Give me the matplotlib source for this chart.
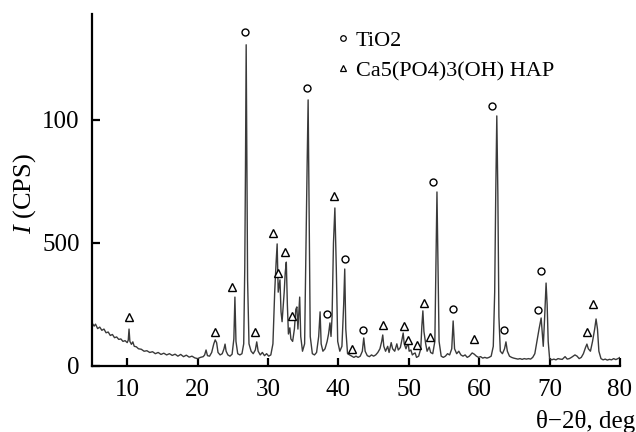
import matplotlib
matplotlib.use("Agg")
import matplotlib.pyplot as plt
from matplotlib.lines import Line2D

plt.rcParams['font.family'] = ['Liberation Serif', 'DejaVu Serif']
plt.rcParams['mathtext.fontset'] = 'custom'
plt.rcParams['mathtext.it'] = 'Liberation Serif:italic'
plt.rcParams['mathtext.rm'] = 'Liberation Serif'

# XRD trace (2theta in deg, intensity in CPS)
two_theta = [
    5.0, 5.3, 5.5, 5.8, 6.1, 6.4, 6.7, 7.0, 7.3, 7.6, 7.9, 8.2, 8.5, 8.8, 9.1, 9.4, 9.7,
    10.0, 10.15, 10.26, 10.38, 10.6, 10.8, 11.0, 11.3, 11.6, 12.0, 12.4, 12.8, 13.2, 13.6,
    14.0, 14.4, 14.8, 15.2, 15.6, 16.0, 16.4, 16.8, 17.2, 17.6, 18.0, 18.4, 18.8, 19.2, 19.6,
    20.0, 20.4, 20.8, 21.0, 21.2, 21.4, 21.7, 22.0, 22.3, 22.5, 22.7, 22.9, 23.2, 23.5, 23.75,
    23.9, 24.05, 24.3, 24.6, 24.9, 25.15, 25.3, 25.45, 25.7, 26.0, 26.3, 26.55, 26.7, 26.8,
    26.9, 27.0, 27.1, 27.3, 27.6, 27.9, 28.2, 28.4, 28.6, 28.9, 29.2, 29.5, 29.8, 30.1, 30.4,
    30.7, 30.95, 31.15, 31.3, 31.45, 31.6, 31.7, 31.85, 32.0, 32.3, 32.45, 32.6, 32.75, 32.9,
    33.1, 33.25, 33.5, 33.75, 33.95, 34.1, 34.25, 34.35, 34.5, 34.65, 34.9, 35.2, 35.4, 35.55,
    35.7, 35.85, 36.0, 36.3, 36.6, 36.9, 37.2, 37.4, 37.55, 37.8, 38.1, 38.4, 38.6, 38.8,
    38.95, 39.1, 39.3, 39.5, 39.7, 39.9, 40.2, 40.5, 40.75, 40.9, 41.05, 41.3, 41.6, 41.9,
    42.2, 42.5, 42.8, 43.1, 43.4, 43.6, 43.8, 44.1, 44.4, 44.7, 45.0, 45.3, 45.6, 45.9, 46.15,
    46.3, 46.45, 46.7, 47.0, 47.2, 47.5, 47.7, 48.0, 48.3, 48.5, 48.8, 49.05, 49.2, 49.35,
    49.6, 49.9, 50.05, 50.3, 50.5, 50.7, 50.9, 51.1, 51.4, 51.7, 51.85, 52.0, 52.15, 52.4,
    52.6, 52.9, 53.1, 53.4, 53.7, 53.85, 54.0, 54.15, 54.3, 54.6, 54.9, 55.2, 55.5, 55.8,
    56.1, 56.3, 56.5, 56.8, 57.1, 57.4, 57.7, 58.0, 58.3, 58.6, 59.0, 59.3, 59.6, 59.9, 60.2,
    60.5, 60.8, 61.1, 61.4, 61.7, 62.0, 62.2, 62.35, 62.5, 62.65, 62.8, 63.0, 63.3, 63.6,
    63.8, 64.0, 64.3, 64.6, 64.9, 65.2, 65.5, 65.8, 66.1, 66.4, 66.7, 67.0, 67.3, 67.6, 67.9,
    68.2, 68.5, 68.8, 68.95, 69.1, 69.3, 69.5, 69.65, 69.8, 70.0, 70.3, 70.6, 70.9, 71.2,
    71.5, 71.8, 72.2, 72.5, 72.8, 73.1, 73.6, 73.9, 74.2, 74.5, 74.8, 75.1, 75.3, 75.5, 75.8,
    76.1, 76.4, 76.6, 76.8, 77.0, 77.3, 77.6, 77.9, 78.2, 78.5, 78.8, 79.1, 79.4, 79.7, 80.0,
]
counts = [
    175, 162, 170, 152, 158, 145, 150, 135, 138, 124, 128, 115, 118, 108, 110, 100, 103,
    95, 105, 150, 100, 88, 98, 80, 78, 70, 68, 60, 62, 55, 58,
    50, 55, 47, 52, 45, 50, 43, 48, 40, 47, 38, 44, 36, 40, 33,
    30, 35, 38, 45, 65, 42, 40, 55, 90, 106, 95, 55, 45, 50, 70,
    89, 60, 45, 40, 48, 110, 280, 100, 50, 45, 50, 90, 400, 800,
    1305, 800, 350, 90, 60, 50, 65, 98, 60, 45, 55, 42, 50, 40, 45,
    90, 300, 420, 496, 300, 330, 350, 220, 180, 300, 380, 422, 250, 130,
    155, 110, 100, 150, 230, 240, 150, 200, 280, 120, 60, 90, 500, 800,
    1081, 600, 120, 50, 45, 55, 120, 220, 90, 60, 70, 100, 130, 175,
    120, 200, 500, 642, 400, 100, 60, 80, 250, 394, 150, 50, 45, 40,
    35, 40, 35, 40, 60, 114, 60, 42, 38, 45, 40, 45, 55, 70, 100,
    126, 80, 60, 80, 55, 95, 70, 60, 90, 65, 75, 110, 134, 90,
    70, 95, 60, 65, 45, 50, 53, 35, 40, 70, 160, 224, 140, 90,
    60, 77, 55, 50, 100, 400, 707, 400, 100, 40, 35, 40, 50, 45,
    70, 183, 70, 50, 60, 45, 40, 45, 35, 40, 53, 48, 40, 35, 38,
    32, 35, 32, 35, 40, 80, 300, 700, 1016, 700, 200, 60, 50, 70,
    98, 60, 40, 35, 32, 30, 28, 30, 27, 30, 28, 30, 28, 35, 50,
    100, 150, 195, 140, 80, 200, 337, 250, 100, 30, 25, 28, 25, 30,
    28, 27, 38, 28, 30, 35, 45, 40, 30, 35, 50, 75, 89, 70, 60,
    100, 150, 191, 150, 60, 30, 25, 28, 24, 27, 25, 30, 26, 30, 35,
]

# phase marks above the peaks
tio2_x = [26.7, 35.5, 38.4, 40.9, 43.5, 53.4, 56.3, 61.8, 63.5, 68.4, 68.8]
tio2_y = [1358, 1130, 211, 435, 146, 748, 232, 1057, 146, 228, 386]
hap_x = [10.3, 22.5, 24.9, 28.2, 30.7, 31.4, 32.4, 33.4, 39.4, 41.9, 46.3, 49.3,
         49.9, 51.2, 52.2, 53.0, 59.3, 75.3, 76.2]
hap_y = [199, 138, 321, 138, 541, 378, 463, 203, 691, 69, 167, 163,
         106, 85, 256, 118, 110, 138, 252]

xticks = [10, 20, 30, 40, 50, 60, 70, 80]
yticks = [0, 500, 1000]
ytick_labels = ["0", "500", "100"]

fig = plt.figure(figsize=(6.36, 4.32), dpi=100)
ax = fig.add_axes([92/636, 1-366/432, (620-92)/636, (366-14)/432])

ax.plot(two_theta, counts, color='#3a3a3a', lw=1.0)
ax.plot(tio2_x, tio2_y, 'o', ms=5, mfc='white', mec='black', mew=1.0)
ax.plot(hap_x, hap_y, '^', ms=5.5, mfc='white', mec='black', mew=1.0)

ax.set_xlim(5, 80)
ax.set_ylim(0, 1430)
ax.set_xticks(xticks)
ax.set_yticks(yticks)
ax.set_yticklabels(ytick_labels)

for s in ['top', 'right']:
    ax.spines[s].set_visible(False)
for s in ['left', 'bottom']:
    ax.spines[s].set_linewidth(1.6)
ax.tick_params(direction='in', length=6, width=1.6, labelsize=18)
ax.tick_params(axis='x', pad=9)
ax.tick_params(axis='y', pad=9)

ax.set_ylabel("$I$ (CPS)", fontsize=19)
ax.yaxis.set_label_coords(-0.102, 0.49)
ax.set_xlabel("θ−2θ, deg", fontsize=18, loc='right')
ax.xaxis.set_label_coords((635-92)/528, (366-410)/352)

handles = [
    Line2D([], [], marker='o', ls='none', ms=4, mfc='white', mec='black', mew=0.9),
    Line2D([], [], marker='^', ls='none', ms=4.5, mfc='white', mec='black', mew=0.9),
]
fig.legend(handles, ["TiO2", "Ca5(PO4)3(OH) HAP"], loc='upper left',
           bbox_to_anchor=(336/636, 1-30/432), frameon=False, fontsize=16,
           handlelength=0.6, handletextpad=0.3, labelspacing=0.45, borderpad=0,
           borderaxespad=0)

fig.savefig("out.png", dpi=100)
